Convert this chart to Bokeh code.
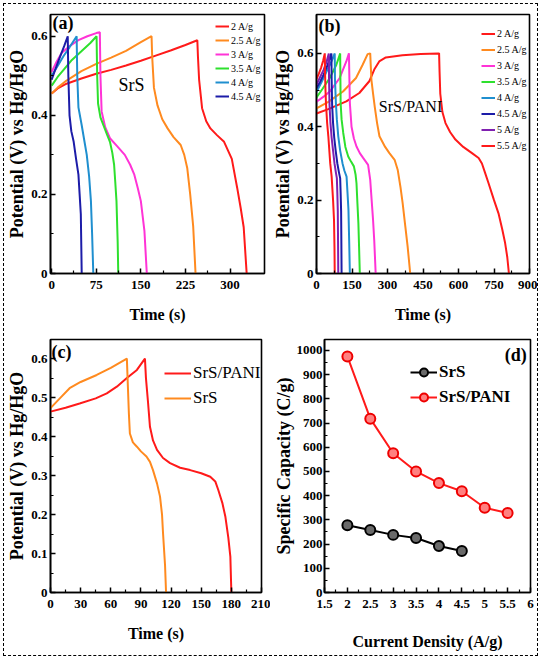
from bokeh.plotting import figure
from bokeh.models import FixedTicker, Legend, LegendItem, Label, Range1d
from bokeh.layouts import column, row
from bokeh.embed import file_html
from bokeh.resources import INLINE

# ---------------- data ----------------
# (a) SrS GCD curves: time (s), potential (V)
a_2_t = [0, 10, 25, 50, 75, 100, 125, 150, 175, 200, 225, 245, 246, 248, 253, 260, 267, 278, 290, 303, 312, 318, 323, 328]
a_2_v = [0.455, 0.468, 0.48, 0.493, 0.505, 0.515, 0.526, 0.538, 0.551, 0.564, 0.578, 0.59, 0.55, 0.49, 0.418, 0.385, 0.367, 0.35, 0.333, 0.29, 0.217, 0.165, 0.117, 0.0]
a_25_t = [0, 10, 25, 50, 75, 100, 125, 150, 168, 169, 172, 178, 186, 195, 205, 217, 223, 228, 233, 238, 242]
a_25_v = [0.455, 0.47, 0.488, 0.512, 0.53, 0.546, 0.563, 0.585, 0.6, 0.55, 0.47, 0.425, 0.39, 0.367, 0.345, 0.325, 0.3, 0.267, 0.2, 0.12, 0.0]
a_3_t = [0, 8, 17, 30, 45, 60, 75, 81, 82, 84, 90, 98, 110, 123, 132, 139, 145, 150, 156, 160]
a_3_v = [0.51, 0.535, 0.558, 0.575, 0.59, 0.6, 0.608, 0.61, 0.5, 0.41, 0.37, 0.342, 0.322, 0.3, 0.275, 0.25, 0.215, 0.183, 0.108, 0.0]
a_35_t = [0, 10, 20, 34, 50, 65, 75.5, 76.5, 78, 82, 87, 93, 98, 102, 105, 107, 109, 111, 112]
a_35_v = [0.475, 0.497, 0.515, 0.54, 0.562, 0.583, 0.6, 0.5, 0.43, 0.395, 0.375, 0.352, 0.333, 0.305, 0.275, 0.23, 0.183, 0.08, 0.0]
a_4_t = [0, 10, 20, 30, 42, 43, 45, 50.5, 55, 59, 63, 66, 68, 70]
a_4_v = [0.5, 0.525, 0.55, 0.572, 0.6, 0.5, 0.42, 0.375, 0.335, 0.3, 0.245, 0.183, 0.1, 0.0]
a_45_t = [0, 7, 14, 21, 27, 28, 30, 33, 37, 41, 45, 47, 49, 50.5]
a_45_v = [0.49, 0.52, 0.548, 0.575, 0.6, 0.5, 0.4, 0.36, 0.333, 0.29, 0.25, 0.2, 0.15, 0.0]
a_labels = ["2 A/g", "2.5 A/g", "3 A/g", "3.5 A/g", "4 A/g", "4.5 A/g"]

# (b) SrS/PANI GCD curves
b_2_t = [0, 50, 126, 181, 223, 244, 265, 293, 363, 440, 516, 518, 520, 523, 532, 545, 565, 587, 620, 657, 685, 699, 712, 727, 750, 769, 785, 797, 806, 813]
b_2_v = [0.436, 0.448, 0.469, 0.492, 0.524, 0.556, 0.578, 0.589, 0.595, 0.598, 0.6, 0.6, 0.55, 0.49, 0.44, 0.41, 0.385, 0.365, 0.345, 0.328, 0.315, 0.3, 0.275, 0.246, 0.2, 0.164, 0.12, 0.083, 0.045, 0.0]
b_25_t = [0, 50, 112, 167, 195, 216, 227, 229, 232, 239, 246, 256, 266, 290, 308, 330, 343, 355, 364, 375, 385, 396]
b_25_v = [0.45, 0.468, 0.496, 0.533, 0.569, 0.598, 0.6, 0.57, 0.528, 0.49, 0.455, 0.41, 0.374, 0.345, 0.328, 0.31, 0.283, 0.235, 0.192, 0.13, 0.074, 0.0]
b_3_t = [0, 30, 56, 98, 126, 137, 139, 141, 148, 158, 169, 183, 197, 218, 227, 233, 239, 244, 248, 250]
b_3_v = [0.468, 0.482, 0.496, 0.533, 0.578, 0.6, 0.53, 0.464, 0.4, 0.368, 0.346, 0.328, 0.315, 0.296, 0.255, 0.2, 0.146, 0.09, 0.03, 0.0]
b_35_t = [0, 25, 56, 84, 100, 101, 102, 106, 113, 122, 134, 146, 158, 165, 169, 173, 177, 180, 183]
b_35_v = [0.48, 0.503, 0.533, 0.569, 0.6, 0.53, 0.464, 0.42, 0.383, 0.345, 0.319, 0.305, 0.292, 0.27, 0.246, 0.19, 0.137, 0.07, 0.0]
b_4_t = [0, 20, 42, 60, 77, 78, 82, 86, 92, 100, 110, 118, 127, 131, 135, 138, 141]
b_4_v = [0.495, 0.52, 0.55, 0.573, 0.6, 0.53, 0.464, 0.42, 0.374, 0.335, 0.3, 0.28, 0.264, 0.22, 0.174, 0.09, 0.0]
b_45_t = [0, 15, 30, 45, 63, 64, 66, 70, 75, 81, 88, 95, 100, 102, 104, 105, 106]
b_45_v = [0.505, 0.522, 0.542, 0.565, 0.6, 0.53, 0.46, 0.41, 0.37, 0.335, 0.3, 0.275, 0.26, 0.22, 0.17, 0.09, 0.0]
b_5_t = [0, 15, 30, 42, 52, 53, 55, 59, 64, 70, 76, 82, 86, 88, 90, 91, 92]
b_5_v = [0.515, 0.535, 0.555, 0.576, 0.6, 0.53, 0.46, 0.41, 0.37, 0.335, 0.3, 0.275, 0.26, 0.22, 0.17, 0.09, 0.0]
b_55_t = [0, 10, 20, 28, 35, 36, 38, 40, 45, 50, 58, 64, 70, 74, 76, 77]
b_55_v = [0.53, 0.545, 0.562, 0.58, 0.6, 0.55, 0.5, 0.464, 0.41, 0.374, 0.3, 0.264, 0.2, 0.146, 0.07, 0.0]
b_labels = ["2 A/g", "2.5 A/g", "3 A/g", "3.5 A/g", "4 A/g", "4.5 A/g", "5 A/g", "5.5 A/g"]

# (c) comparison at 2 A/g
c_pani_t = [0, 15, 29, 45, 56, 66, 76, 86, 94, 95, 97, 99, 102, 106, 112, 119, 129, 139, 150, 159, 164, 167, 171, 174, 177, 179, 180]
c_pani_v = [0.464, 0.474, 0.485, 0.498, 0.511, 0.528, 0.55, 0.571, 0.6, 0.55, 0.49, 0.425, 0.39, 0.366, 0.345, 0.332, 0.32, 0.314, 0.306, 0.297, 0.285, 0.263, 0.23, 0.195, 0.14, 0.092, 0.0]
c_srs_t = [0, 10, 19, 30, 46, 60, 76, 77, 78, 79, 82, 86, 90, 95.5, 99, 102, 106, 109, 111, 112, 114, 115]
c_srs_v = [0.473, 0.5, 0.524, 0.54, 0.558, 0.576, 0.6, 0.53, 0.46, 0.408, 0.385, 0.374, 0.362, 0.349, 0.335, 0.314, 0.28, 0.246, 0.2, 0.152, 0.07, 0.0]

# (d) specific capacity vs current density
d_srs_x = [2.0, 2.5, 3.0, 3.5, 4.0, 4.5]
d_srs_y = [278, 258, 238, 225, 192, 171]
d_pani_x = [2.0, 2.5, 3.0, 3.5, 4.0, 4.5, 5.0, 5.5]
d_pani_y = [975, 718, 575, 500, 452, 418, 350, 328]

# tick values
a_xticks = [0, 75, 150, 225, 300]
a_yticks = [0, 0.2, 0.4, 0.6]
b_xticks = [0, 150, 300, 450, 600, 750, 900]
b_yticks = [0.0, 0.2, 0.4, 0.6]
c_xticks = [0, 30, 60, 90, 120, 150, 180, 210]
c_yticks = [0.0, 0.1, 0.2, 0.3, 0.4, 0.5, 0.6]
d_xticks = [1.5, 2.0, 2.5, 3.0, 3.5, 4.0, 4.5, 5.0, 5.5, 6.0]
d_yticks = [0, 100, 200, 300, 400, 500, 600, 700, 800, 900, 1000]

# ---------------- styling ----------------
SERIF = "Liberation Serif"
RED = "#ff1a1a"
ORANGE = "#ff8a1f"
MAGENTA = "#ff33d6"
GREEN = "#2ee02e"
LBLUE = "#1f8fcf"
NAVY = "#1c1ca8"
PURPLE = "#8020b0"


def mids(t):
    return [(t[i] + t[i + 1]) / 2 for i in range(len(t) - 1)]


def make_fig(w, h, xr, yr, bl, br, bt, bb, xt, yt, xlabel, ylabel):
    p = figure(width=w, height=h, x_range=Range1d(*xr), y_range=Range1d(*yr),
               output_backend="svg", toolbar_location=None,
               min_border_left=bl, min_border_right=br,
               min_border_top=bt, min_border_bottom=bb)
    p.grid.visible = False
    p.outline_line_color = "black"
    p.outline_line_width = 1.6
    p.background_fill_color = "white"
    p.border_fill_color = "white"
    p.xaxis.ticker = FixedTicker(ticks=xt, minor_ticks=mids(xt))
    p.yaxis.ticker = FixedTicker(ticks=yt, minor_ticks=mids(yt))
    p.xaxis.axis_label = xlabel
    p.yaxis.axis_label = ylabel
    for ax in (p.xaxis[0], p.yaxis[0]):
        ax.axis_line_width = 1.6
        ax.axis_line_color = "black"
        ax.major_tick_in = 5
        ax.major_tick_out = 0
        ax.minor_tick_in = 3
        ax.minor_tick_out = 0
        ax.major_tick_line_width = 1.5
        ax.minor_tick_line_width = 1.2
        ax.major_tick_line_color = "black"
        ax.minor_tick_line_color = "black"
        ax.major_label_text_font = SERIF
        ax.major_label_text_font_style = "bold"
        ax.major_label_text_font_size = "13px"
        ax.major_label_text_color = "black"
        ax.axis_label_text_font = SERIF
        ax.axis_label_text_font_style = "bold"
        ax.axis_label_text_color = "black"
    p.xaxis.axis_label_text_font_size = "16px"
    p.yaxis.axis_label_text_font_size = "18px"
    p.xaxis.major_label_standoff = 7
    p.xaxis.axis_label_standoff = 14
    p.yaxis.major_label_standoff = 3
    p.yaxis.axis_label_standoff = 1
    return p


def add_legend(p, items, loc, font_size, gw, gh, spacing, bold=False):
    lg = Legend(items=items, location=loc, border_line_color=None,
                background_fill_alpha=0, padding=0, margin=0,
                glyph_width=gw, glyph_height=gh, label_height=gh,
                spacing=spacing, label_standoff=2,
                label_text_font=SERIF, label_text_font_size=font_size,
                label_text_color="black")
    if bold:
        lg.label_text_font_style = "bold"
    p.add_layout(lg)


def add_text(p, x, y, text, size, bold=False, align="left", baseline="top", x_units="screen"):
    p.add_layout(Label(x=x, y=y, x_units=x_units, y_units="screen", text=text,
                       text_font=SERIF, text_font_size=size,
                       text_font_style="bold" if bold else "normal",
                       text_align=align, text_baseline=baseline, text_color="black"))


YLAB = "Potential (V) vs Hg/HgO"

# ---------------- (a) ----------------
pa = make_fig(266, 327, (-2, 358), (0, 0.655), 44, 6, 10, 55,
              a_xticks, a_yticks, "Time (s)", YLAB)
pa.yaxis.major_label_overrides = {0: "0"}
a_series = [(a_2_t, a_2_v, RED), (a_25_t, a_25_v, ORANGE), (a_3_t, a_3_v, MAGENTA),
            (a_35_t, a_35_v, GREEN), (a_4_t, a_4_v, LBLUE), (a_45_t, a_45_v, NAVY)]
a_items = []
for (t, v, c), lab in zip(a_series, a_labels):
    r = pa.line(t, v, line_color=c, line_width=2)
    a_items.append(LegendItem(label=lab, renderers=[r]))
add_legend(pa, a_items, (165, 171), "10px", 14, 12, 2)
add_text(pa, 2, 261, "(a)", "18px", bold=True)
add_text(pa, 81, 189, "SrS", "18px", align="center", baseline="middle")

# ---------------- (b) ----------------
pb = make_fig(267, 327, (0, 900), (0, 0.706), 44, 8, 10, 58,
              b_xticks, b_yticks, "Time (s)", YLAB)
b_series = [(b_2_t, b_2_v, RED), (b_25_t, b_25_v, ORANGE), (b_3_t, b_3_v, MAGENTA),
            (b_35_t, b_35_v, GREEN), (b_4_t, b_4_v, LBLUE), (b_45_t, b_45_v, NAVY),
            (b_5_t, b_5_v, PURPLE), (b_55_t, b_55_v, RED)]
b_items = []
for (t, v, c), lab in zip(b_series, b_labels):
    r = pb.line(t, v, line_color=c, line_width=2)
    b_items.append(LegendItem(label=lab, renderers=[r]))
add_legend(pb, b_items, (165, 121), "10px", 14, 13, 3)
add_text(pb, 2, 258, "(b)", "18px", bold=True)
add_text(pb, 94, 167, "SrS/PANI", "16px", align="center", baseline="middle")

# ---------------- (c) ----------------
pc = make_fig(266, 324, (0, 210), (0, 0.649), 46, 9, 8, 63,
              c_xticks, c_yticks, "Time (s)", YLAB)
r1 = pc.line(c_pani_t, c_pani_v, line_color=RED, line_width=2)
r2 = pc.line(c_srs_t, c_srs_v, line_color=ORANGE, line_width=2)
add_legend(pc, [LegendItem(label="SrS/PANI", renderers=[r1]),
                LegendItem(label="SrS", renderers=[r2])],
           (114, 184), "17px", 27, 20, 5)
add_text(pc, 1, 251, "(c)", "18px", bold=True)

# ---------------- (d) ----------------
pd_ = make_fig(267, 324, (1.5, 6.0), (0, 1045), 49, 7, 6, 61,
               d_xticks, d_yticks, "Current Density (A/g)", "Specific Capacity (C/g)")
pd_.xaxis.axis_label_standoff = 22
pd_.yaxis.major_label_standoff = 2
pd_.yaxis.axis_label_standoff = 0
l1 = pd_.line(d_srs_x, d_srs_y, line_color="black", line_width=2)
s1 = pd_.scatter(d_srs_x, d_srs_y, size=10, fill_color="#6a6a6a", line_color="black", line_width=2)
l2 = pd_.line(d_pani_x, d_pani_y, line_color=RED, line_width=2)
s2 = pd_.scatter(d_pani_x, d_pani_y, size=10, fill_color="#ff8080", line_color="#ee0000", line_width=2)
add_legend(pd_, [LegendItem(label="SrS", renderers=[l1, s1]),
                 LegendItem(label="SrS/PANI", renderers=[l2, s2])],
           (86, 185), "17px", 27, 20, 5, bold=True)
add_text(pd_, 5.92, 248, "(d)", "18px", bold=True, align="right", x_units="data")

layout = column(row(pa, pb), row(pc, pd_), margin=(4, 0, 0, 4),
                styles={"outline": "1px dashed black", "outline-offset": "0px"})

open("out.html", "w").write(file_html(layout, INLINE))
